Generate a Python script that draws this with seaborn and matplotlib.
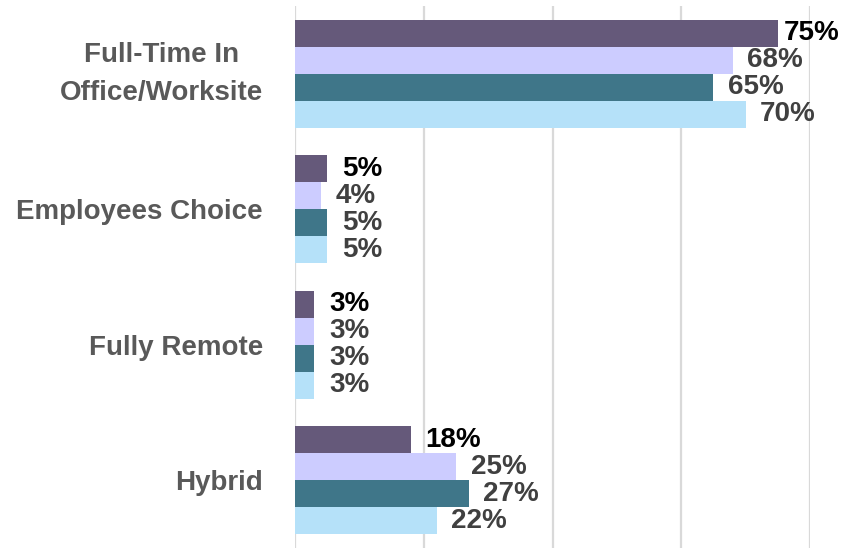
import matplotlib
matplotlib.use("Agg")
import matplotlib.pyplot as plt
import seaborn as sns
import pandas as pd

categories = ["Full-Time In\nOffice/Worksite", "Employees Choice", "Fully Remote", "Hybrid"]
series_names = ["Series 1", "Series 2", "Series 3", "Series 4"]
series_values = [
    [75, 5, 3, 18],
    [68, 4, 3, 25],
    [65, 5, 3, 27],
    [70, 5, 3, 22],
]
colors = ["#65597A", "#CCCCFF", "#3F7689", "#B5E1F9"]
label_colors = ["#000000", "#404040", "#404040", "#404040"]

rows = []
for s, vals in zip(series_names, series_values):
    for c, v in zip(categories, vals):
        rows.append({"category": c, "series": s, "value": v})
df = pd.DataFrame(rows)

sns.set_theme(style="white")
plt.rcParams["font.family"] = ["Liberation Sans", "DejaVu Sans"]

fig = plt.figure(figsize=(8.46, 5.54), dpi=100)
ax = fig.add_axes([295 / 846, 6 / 554, (810 - 295) / 846, (548 - 6) / 554])

sns.barplot(data=df, y="category", x="value", hue="series", order=categories,
            hue_order=series_names, palette=colors, orient="h", width=0.8,
            saturation=1, linewidth=0, legend=False, ax=ax)

ax.set_xlim(0, 80)
ax.set_ylim(3.5, -0.5)
ax.set_xticks([0, 20, 40, 60, 80])
ax.set_xticklabels([])
ax.grid(axis="x", color="#D9D9D9", linewidth=1.6)
ax.set_axisbelow(True)
for sp in ax.spines.values():
    sp.set_visible(False)
ax.tick_params(axis="both", length=0)
ax.set_xlabel("")
ax.set_ylabel("")

ax.set_yticks(range(len(categories)))
ax.set_yticklabels(categories, fontsize=20, fontweight="bold", color="#595959")
for t in ax.get_yticklabels():
    t.set_multialignment("center")
    if "\n" in t.get_text():
        t.set_linespacing(1.6)
        t.set_verticalalignment("center")
ax.tick_params(axis="y", pad=23)

xmax = ax.get_xlim()[1]
for cont, lc in zip(ax.containers, label_colors):
    for rect, v in zip(cont.patches, cont.datavalues):
        pad = 4 if v > 0.9 * xmax else 10.5
        ax.annotate(f"{v:.0f}%", xy=(rect.get_width(), rect.get_y() + rect.get_height() / 2),
                    xytext=(pad, 0), textcoords="offset points", ha="left", va="center",
                    fontsize=20, fontweight="bold", color=lc, annotation_clip=False)

fig.savefig("out.png", dpi=100)
